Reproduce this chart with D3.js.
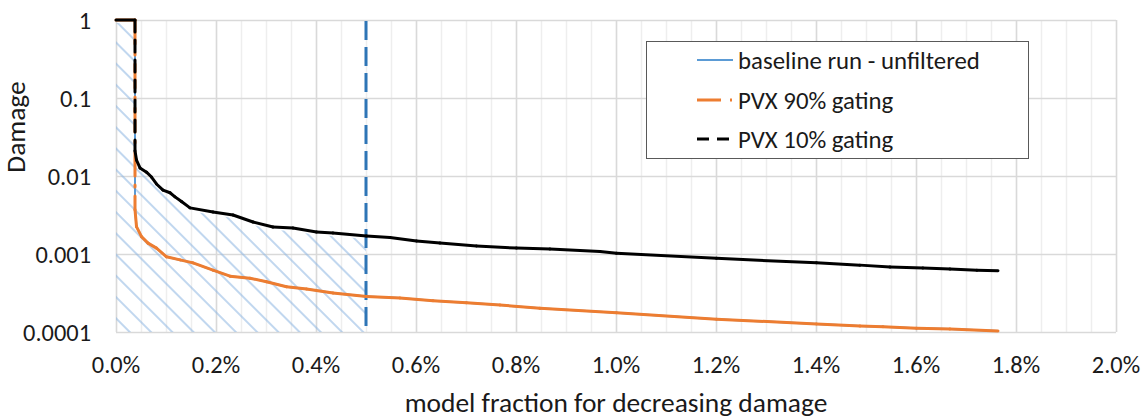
<!DOCTYPE html>
<html>
<head>
<meta charset="utf-8">
<script src="https://cdn.jsdelivr.net/npm/d3@7"></script>
<style>
  html, body { margin: 0; padding: 0; background: #fff; }
  svg { display: block; }
  text { font-family: Carlito, Lato, sans-serif; fill: #1a1a1a; }
</style>
</head>
<body>
<svg id="chart" width="1146" height="418"></svg>
<script>
// ---------- data ----------
const xTicks = [0, 0.002, 0.004, 0.006, 0.008, 0.010, 0.012, 0.014, 0.016, 0.018, 0.020];
const yTicks = [1, 0.1, 0.01, 0.001, 0.0001];
const yTickLabels = ["1", "0.1", "0.01", "0.001", "0.0001"];
const seriesNames = ["baseline run - unfiltered", "PVX 90% gating", "PVX 10% gating"];
const thresholdX = [0.005];

const baselineFraction = [0, 0.00038, 0.00038, 0.00041, 0.00051, 0.00064, 0.00081, 0.00101, 0.00128, 0.00154,
  0.00194, 0.00228, 0.00268, 0.00301, 0.00341, 0.00381, 0.00434, 0.00501, 0.00568, 0.00634, 0.00701,
  0.00768, 0.00848, 0.01001, 0.01201, 0.01401, 0.01488, 0.01534, 0.01601, 0.01668, 0.01764];
const baselineDamage = [1, 1, 0.0037, 0.00224, 0.00167, 0.00138, 0.00119, 0.00092, 0.00084, 0.00077,
  0.00062, 0.00052, 0.00049, 0.00044, 0.00038, 0.000356, 0.000316, 0.000285, 0.000273, 0.000252, 0.000237,
  0.000222, 0.000201, 0.000177, 0.000146, 0.000127, 0.000119, 0.000117, 0.000112, 0.000109, 0.000103];

const pvx90Fraction = [0, 0.00038, 0.00038, 0.00041, 0.00051, 0.00064, 0.00081, 0.00101, 0.00128, 0.00154,
  0.00194, 0.00228, 0.00268, 0.00301, 0.00341, 0.00381, 0.00434, 0.00501, 0.00568, 0.00634, 0.00701,
  0.00768, 0.00848, 0.01001, 0.01201, 0.01401, 0.01488, 0.01534, 0.01601, 0.01668, 0.01764];
const pvx90Damage = [1, 1, 0.0037, 0.00224, 0.00167, 0.00138, 0.00119, 0.00092, 0.00084, 0.00077,
  0.00062, 0.00052, 0.00049, 0.00044, 0.00038, 0.000356, 0.000316, 0.000285, 0.000273, 0.000252, 0.000237,
  0.000222, 0.000201, 0.000177, 0.000146, 0.000127, 0.000119, 0.000117, 0.000112, 0.000109, 0.000103];

const pvx10Fraction = [0, 0.00038, 0.00038, 0.00041, 0.00048, 0.00061, 0.00071, 0.00081, 0.00094, 0.00108,
  0.00118, 0.00131, 0.00148, 0.00194, 0.00234, 0.00274, 0.00314, 0.00354, 0.00401, 0.00434, 0.00501,
  0.00548, 0.00601, 0.00648, 0.00721, 0.00801, 0.00868, 0.00968, 0.01001, 0.01201, 0.01401, 0.01488,
  0.01548, 0.01614, 0.01668, 0.01722, 0.01764];
const pvx10Damage = [1, 1, 0.021, 0.016, 0.0127, 0.0112, 0.0097, 0.0079, 0.0066, 0.0061,
  0.0054, 0.0047, 0.0039, 0.00345, 0.00316, 0.00257, 0.00222, 0.00215, 0.00191, 0.00186, 0.00170,
  0.00163, 0.00147, 0.00138, 0.00127, 0.00119, 0.00116, 0.00108, 0.00102, 0.00088, 0.00077, 0.00072,
  0.00068, 0.00066, 0.00064, 0.00062, 0.00061];

// ---------- layout ----------
const plot = { left: 116, right: 1116, top: 20, bottom: 332 };
const svg = d3.select("#chart");

const x = d3.scaleLinear().domain([0, 0.02]).range([plot.left, plot.right]);
const y = d3.scaleLog().domain([0.0001, 1]).range([plot.bottom, plot.top]);

const zip = (xs, ys) => xs.map((v, i) => ({ x: v, y: ys[i] }));
const series = [
  { name: seriesNames[0], data: zip(baselineFraction, baselineDamage), color: "#5B9BD5", width: 2, dash: null },
  { name: seriesNames[1], data: zip(pvx90Fraction, pvx90Damage), color: "#ED7D31", width: 3, dash: "24,9,2,9" },
  { name: seriesNames[2], data: zip(pvx10Fraction, pvx10Damage), color: "#000000", width: 3, dash: "12,8" }
];

// fit font size so that a sample string spans a measured width
function fitSize(sample, targetWidth) {
  const t = svg.append("text").attr("font-size", 100).text(sample);
  const w = t.node().getComputedTextLength();
  t.remove();
  return 100 * targetWidth / w;
}
const tickFs = fitSize("0.0001", 68);
const titleFs = fitSize("model fraction for decreasing damage", 423);
const legendFs = fitSize("baseline run - unfiltered", 242);

// ---------- gridlines ----------
const minorX = d3.range(0, 0.02001, 0.0005);
svg.append("g").selectAll("line").data(minorX).join("line")
  .attr("x1", d => Math.round(x(d)) + 0.5).attr("x2", d => Math.round(x(d)) + 0.5)
  .attr("y1", plot.top).attr("y2", plot.bottom)
  .attr("stroke", "#EEEEEE").attr("stroke-width", 1.5);
svg.append("g").selectAll("line").data(xTicks).join("line")
  .attr("x1", d => Math.round(x(d)) + 0.5).attr("x2", d => Math.round(x(d)) + 0.5)
  .attr("y1", plot.top).attr("y2", plot.bottom)
  .attr("stroke", "#D9D9D9").attr("stroke-width", 1.5);
svg.append("g").selectAll("line").data(yTicks).join("line")
  .attr("x1", plot.left).attr("x2", plot.right)
  .attr("y1", d => Math.round(y(d)) + 0.5).attr("y2", d => Math.round(y(d)) + 0.5)
  .attr("stroke", "#D9D9D9").attr("stroke-width", 1.5);

// ---------- hatch area under PVX 10% curve up to threshold ----------
const defs = svg.append("defs");
const pat = defs.append("pattern")
  .attr("id", "hatch").attr("patternUnits", "userSpaceOnUse")
  .attr("width", 15).attr("height", 15)
  .attr("patternTransform", "rotate(-45)");
pat.append("line").attr("x1", 7).attr("x2", 7).attr("y1", 0).attr("y2", 15)
  .attr("stroke", "#8DB6E2").attr("stroke-width", 1.1);
defs.append("clipPath").attr("id", "hclip").append("rect")
  .attr("x", plot.left).attr("y", plot.top)
  .attr("width", x(thresholdX[0]) - plot.left).attr("height", plot.bottom - plot.top);
const area = d3.area().x(d => x(d.x)).y0(plot.bottom).y1(d => y(d.y) + 3);
svg.append("path").datum(series[2].data)
  .attr("d", area).attr("fill", "url(#hatch)").attr("clip-path", "url(#hclip)");

// ---------- threshold line ----------
svg.append("g").selectAll("line").data(thresholdX).join("line")
  .attr("x1", d => x(d)).attr("x2", d => x(d))
  .attr("y1", plot.top + 1).attr("y2", plot.bottom)
  .attr("stroke", "#2E75B6").attr("stroke-width", 3).attr("stroke-dasharray", "19,7");

// ---------- series (each segment drawn separately, dash restarts per segment) ----------
series.forEach(s => {
  const segs = d3.pairs(s.data);
  svg.append("g").selectAll("line").data(segs).join("line")
    .attr("x1", d => x(d[0].x)).attr("y1", d => y(d[0].y))
    .attr("x2", d => x(d[1].x)).attr("y2", d => y(d[1].y))
    .attr("stroke", s.color).attr("stroke-width", s.width)
    .attr("stroke-linecap", "round")
    .attr("stroke-dasharray", d => (s.dash && d[0].x === d[1].x) ? s.dash : null);
});

// ---------- axes labels ----------
svg.append("g").selectAll("text").data(xTicks).join("text")
  .attr("x", d => x(d)).attr("y", 373)
  .attr("text-anchor", "middle").attr("font-size", tickFs)
  .text(d => d3.format(".1%")(d));
svg.append("g").selectAll("text").data(yTicks).join("text")
  .attr("x", 91).attr("y", d => y(d)).attr("dy", "0.36em")
  .attr("text-anchor", "end").attr("font-size", tickFs)
  .text((d, i) => yTickLabels[i]);

svg.append("text").attr("x", (plot.left + plot.right) / 2).attr("y", 412)
  .attr("text-anchor", "middle").attr("font-size", titleFs)
  .text("model fraction for decreasing damage");
svg.append("text").attr("transform", "translate(25,127) rotate(-90)")
  .attr("text-anchor", "middle").attr("font-size", titleFs)
  .text("Damage");

// ---------- legend ----------
const lg = svg.append("g");
lg.append("rect").attr("x", 646.5).attr("y", 41.5).attr("width", 382).attr("height", 117)
  .attr("fill", "#fff").attr("stroke", "#595959").attr("stroke-width", 1);
const rowsY = [60, 100, 139];
series.forEach((s, i) => {
  lg.append("line").attr("x1", 697).attr("x2", 733).attr("y1", rowsY[i]).attr("y2", rowsY[i])
    .attr("stroke", s.color).attr("stroke-width", s.width).attr("stroke-dasharray", s.dash);
  lg.append("text").attr("x", 738).attr("y", rowsY[i]).attr("dy", "0.36em")
    .attr("font-size", legendFs).text(s.name);
});
</script>
</body>
</html>
